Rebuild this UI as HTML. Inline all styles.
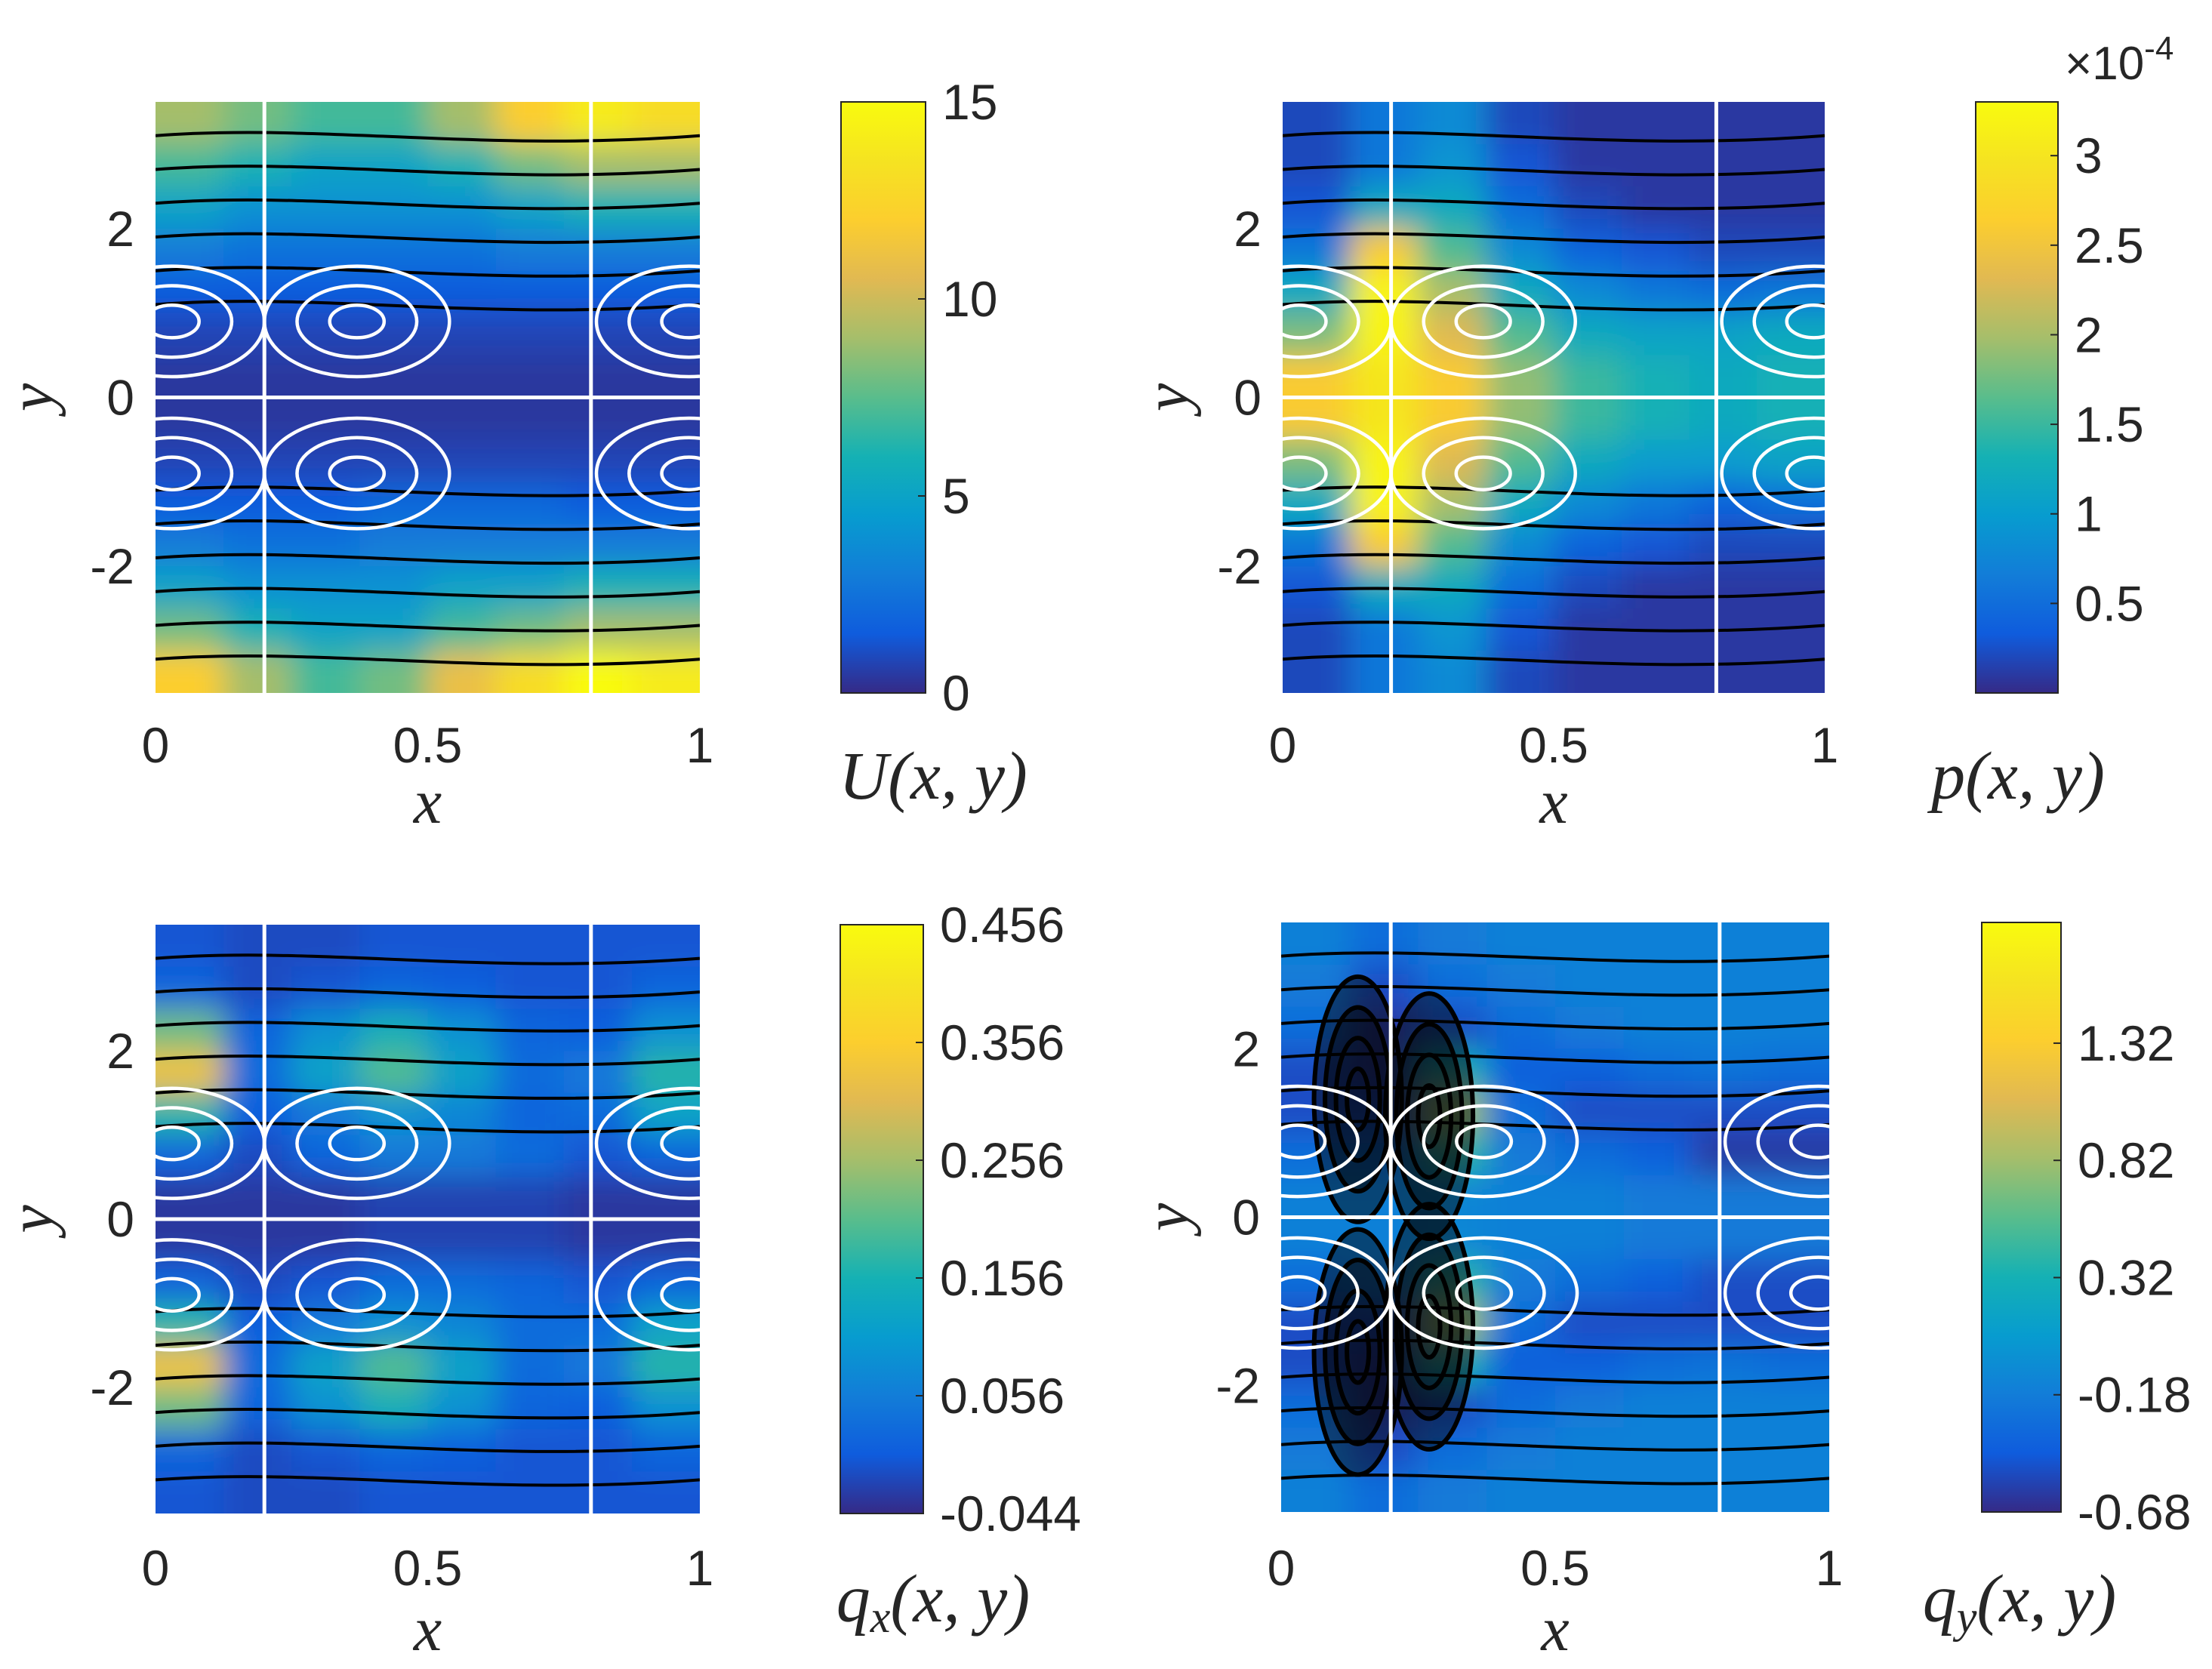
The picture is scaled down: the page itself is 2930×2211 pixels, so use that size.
<!DOCTYPE html>
<html><head><meta charset="utf-8"><style>
html,body{margin:0;padding:0;background:#fff;}
svg{display:block;}
text{font-family:"Liberation Sans",sans-serif;fill:#262626;}
.ser{font-family:"Liberation Serif",serif;font-style:italic;}
</style></head><body>
<svg id="fig" width="2930" height="2211" viewBox="0 0 2930 2211" xmlns="http://www.w3.org/2000/svg">
<defs>
<filter id="blur" x="-10%" y="-10%" width="120%" height="120%"><feGaussianBlur stdDeviation="20"/></filter>
<linearGradient id="parula" x1="0" y1="1" x2="0" y2="0">
<stop offset="0" stop-color="rgb(53,42,135)"/><stop offset="0.1" stop-color="rgb(15,92,221)"/><stop offset="0.2" stop-color="rgb(18,125,216)"/><stop offset="0.3" stop-color="rgb(7,156,207)"/><stop offset="0.4" stop-color="rgb(21,177,180)"/><stop offset="0.5" stop-color="rgb(89,189,140)"/><stop offset="0.6" stop-color="rgb(165,190,107)"/><stop offset="0.7" stop-color="rgb(225,185,82)"/><stop offset="0.8" stop-color="rgb(252,206,46)"/><stop offset="0.9" stop-color="rgb(245,227,33)"/><stop offset="1" stop-color="rgb(249,251,14)"/>
</linearGradient>
</defs>
</svg>
<script>
// ---- data ----
const xTicks = [0, 0.5, 1];
const xTickLabels = ["0", "0.5", "1"];
const yTicks = [2, 0, -2];
const yTickLabels = ["2", "0", "-2"];
const separatrixX = [0.2, 0.8];
const vortexCenters = [[0.37, 0.9], [0.37, -0.9], [0.03, 0.9], [0.03, -0.9], [0.98, 0.9], [0.98, -0.9]];
const loopSizes = [0.05, 0.11, 0.17];
const contourYs = [1.1, 1.5, 1.9, 2.3, 2.7, 3.1, -1.1, -1.5, -1.9, -2.3, -2.7, -3.1];
const denseCentersQy = [[0.14, 1.4], [0.27, 1.2], [0.14, -1.6], [0.27, -1.3]];

const gridU = [
[9,8,7,7,9,12,14,13],[7,6,5,5,6,8,9,9],[5,4,4,4,4,5,6,6],[3,2.5,2.5,2.5,2.5,3,3,3],
[1.5,1.5,1.5,1.5,1.5,1.5,1.5,1.5],[0.8,0.8,0.8,0.8,0.8,0.8,0.8,0.8],[0.4,0.4,0.4,0.4,0.4,0.4,0.4,0.4],[0.4,0.4,0.4,0.4,0.4,0.4,0.4,0.4],
[0.8,0.8,0.8,0.8,0.8,0.8,0.8,0.8],[1.5,1.5,1.5,2,2,2,1.5,1.5],[3,2.5,2.5,3,3,3,3,3],[5,4,4,4,5,5,6,6],
[8,6,5,5,7,8,9,9],[12,9,7,8,11,13,15,14]];
const gridP = [
[0.2,0.6,0.8,0.2,0.1,0.1,0.1,0.1],[0.2,0.6,0.9,0.3,0.1,0.1,0.1,0.1],[0.3,1.2,1.2,0.5,0.2,0.1,0.1,0.1],
[0.6,2.6,1.6,0.8,0.4,0.3,0.2,0.2],[1.2,3.2,2.0,1.2,0.8,0.6,0.5,0.6],[1.8,3.2,2.3,1.6,1.2,1.1,1.1,1.2],
[2.6,3.0,2.6,1.9,1.5,1.3,1.2,1.3],[2.6,3.0,2.6,1.9,1.5,1.3,1.2,1.3],[1.8,3.2,2.3,1.6,1.2,1.0,1.0,1.1],
[1.2,3.2,2.0,1.2,0.8,0.6,0.4,0.5],[0.6,2.6,1.6,0.8,0.4,0.3,0.2,0.2],[0.3,1.2,1.2,0.5,0.2,0.1,0.1,0.1],
[0.2,0.6,0.9,0.3,0.1,0.1,0.1,0.1],[0.2,0.6,0.8,0.2,0.1,0.1,0.1,0.1]];
const gridQx = [
[0.0,-0.01,-0.01,0.0,0.0,0.0,0.0,0.0],[0.02,-0.01,0.0,0.02,0.01,0.0,0.0,0.02],
[0.22,0.02,0.09,0.15,0.09,0.02,0.01,0.09],[0.33,0.03,0.12,0.2,0.12,0.03,0.05,0.17],
[0.17,0.01,0.05,0.09,0.07,0.02,0.03,0.12],[0.02,-0.01,0.02,0.05,0.05,0.03,0.0,0.02],
[-0.03,-0.03,-0.03,-0.02,-0.02,-0.02,-0.03,-0.03],[-0.03,-0.03,-0.03,-0.02,-0.02,-0.02,-0.03,-0.03],
[0.02,-0.01,0.0,0.03,0.03,0.02,0.0,0.02],[0.17,0.01,0.05,0.09,0.07,0.03,0.03,0.12],
[0.33,0.03,0.12,0.2,0.12,0.03,0.05,0.17],[0.22,0.02,0.09,0.15,0.09,0.02,0.01,0.09],
[0.02,-0.01,0.0,0.02,0.01,0.0,0.0,0.02],[0.0,-0.01,-0.01,0.0,0.0,0.0,0.0,0.0]];
const gridQy = [
[-0.15,-0.3,-0.2,-0.15,-0.15,-0.15,-0.15,-0.15],[-0.2,-0.5,-0.3,-0.2,-0.15,-0.15,-0.15,-0.15],
[-0.3,-0.6,-0.5,-0.3,-0.2,-0.15,-0.15,-0.15],[-0.5,-0.6,0.3,-0.4,-0.4,-0.3,-0.25,-0.3],
[-0.5,-0.5,0.8,-0.3,-0.5,-0.5,-0.5,-0.5],[-0.3,-0.3,0.4,-0.2,-0.3,-0.4,-0.6,-0.6],
[-0.15,-0.15,-0.1,-0.15,-0.15,-0.2,-0.2,-0.2],[-0.15,-0.15,-0.1,-0.15,-0.15,-0.2,-0.2,-0.2],
[-0.3,-0.2,0.4,-0.2,-0.3,-0.4,-0.5,-0.5],[-0.5,-0.5,0.8,-0.3,-0.5,-0.5,-0.5,-0.5],
[-0.5,-0.6,0.3,-0.4,-0.4,-0.3,-0.25,-0.3],[-0.3,-0.6,-0.5,-0.3,-0.2,-0.15,-0.15,-0.15],
[-0.2,-0.5,-0.3,-0.2,-0.15,-0.15,-0.15,-0.15],[-0.15,-0.3,-0.2,-0.15,-0.15,-0.15,-0.15,-0.15]];

const cbTicksU = [0, 5, 10, 15];
const cbLabelsU = ["0", "5", "10", "15"];
const cbTicksP = [0.5, 1, 1.5, 2, 2.5, 3];
const cbLabelsP = ["0.5", "1", "1.5", "2", "2.5", "3"];
const cbTicksQx = [-0.044, 0.056, 0.156, 0.256, 0.356, 0.456];
const cbLabelsQx = ["-0.044", "0.056", "0.156", "0.256", "0.356", "0.456"];
const cbTicksQy = [-0.68, -0.18, 0.32, 0.82, 1.32];
const cbLabelsQy = ["-0.68", "-0.18", "0.32", "0.82", "1.32"];

// ---- drawing ----
const NS = "http://www.w3.org/2000/svg";
const fig = document.getElementById("fig");
const stops = [[53,42,135],[15,92,221],[18,125,216],[7,156,207],[21,177,180],[89,189,140],[165,190,107],[225,185,82],[252,206,46],[245,227,33],[249,251,14]];
function parula(t){t=Math.max(0,Math.min(1,t));const f=t*10,i=Math.min(9,Math.floor(f)),r=f-i;const a=stops[i],b=stops[i+1];return "rgb("+a.map((v,k)=>Math.round(v+(b[k]-v)*r)).join(",")+")";}
function mk(tag, attrs, parent){const e=document.createElementNS(NS,tag);for(const k in attrs)e.setAttribute(k,attrs[k]);(parent||fig).appendChild(e);return e;}

const panels = [
 {id:"u", px:[206,927], py:[135,918], cb:[1114,1226], grid:gridU, vmin:0, vmax:15, ticks:cbTicksU, labels:cbLabelsU, title:"U(x, y)", xLab:1068, xTickY:1010, yLabX:47, cbLabelX:1236},
 {id:"p", px:[1699,2417], py:[135,918], cb:[2617,2726], grid:gridP, vmin:0, vmax:3.3, ticks:cbTicksP, labels:cbLabelsP, title:"p(x, y)", xLab:1068, xTickY:1010, yLabX:1551, cbLabelX:2673},
 {id:"qx", px:[206,927], py:[1225,2005], cb:[1113,1223], grid:gridQx, vmin:-0.044, vmax:0.456, ticks:cbTicksQx, labels:cbLabelsQx, title:"qx", xLab:2164, xTickY:2100, yLabX:47, cbLabelX:1236},
 {id:"qy", px:[1697,2423], py:[1222,2003], cb:[2625,2730], grid:gridQy, vmin:-0.68, vmax:1.835, ticks:cbTicksQy, labels:cbLabelsQy, title:"qy", xLab:2164, xTickY:2100, yLabX:1551, cbLabelX:2675}
];

panels.forEach(P=>{
  const W=P.px[1]-P.px[0], H=P.py[1]-P.py[0];
  const sx=v=>P.px[0]+v*W;
  const sy=v=>P.py[0]+(3.5-v)/7*H;
  const g=mk("g",{});
  
  
  const cp=mk("clipPath",{id:"clip-"+P.id},g);
  mk("rect",{x:P.px[0],y:P.py[0],width:W,height:H},cp);
  const plot=mk("g",{"clip-path":"url(#clip-"+P.id+")"},g);
  
  
  const cells=mk("g",{filter:"url(#blur)"},plot);
  const nr=P.grid.length, nc=P.grid[0].length;
  P.grid.forEach((row,r)=>row.forEach((v,c)=>{
    let x0=sx(c/nc), x1=sx((c+1)/nc), y0=sy(3.5-7*r/nr), y1=sy(3.5-7*(r+1)/nr);
    if(c===0)x0-=60; if(c===nc-1)x1+=60; if(r===0)y0-=60; if(r===nr-1)y1+=60;
    const cell=mk("rect",{x:x0,y:y0,width:x1-x0+1,height:y1-y0+1,fill:parula((v-P.vmin)/(P.vmax-P.vmin))},cells);
    
    
  }));
  // contour lines
  contourYs.forEach(cy=>{
    const l=mk("path",{d:`M${sx(0)},${sy(cy)} C${sx(0.3)},${sy(cy+0.15)} ${sx(0.6)},${sy(cy-0.2)} ${sx(1)},${sy(cy)}`,stroke:"#000","stroke-width":4,fill:"none"},plot);
    
    
  });
  if(P.id==="qy"){
    denseCentersQy.forEach(([cx,cy])=>{
      [0.08,0.06,0.04,0.02].forEach((s,k)=>{
        const e=mk("ellipse",{cx:sx(cx),cy:sy(cy),rx:W*s,ry:H*s*2.6,stroke:"#000","stroke-width":6,fill:k<2?"rgba(0,0,0,0.45)":"none"},plot);
        
        
      });
    });
  }
  // streamlines
  separatrixX.forEach(xv=>{
    const l=mk("line",{x1:sx(xv),x2:sx(xv),y1:P.py[0],y2:P.py[1],stroke:"#fff","stroke-width":5},plot);
    
    
  });
  const h=mk("line",{x1:P.px[0],x2:P.px[1],y1:sy(0),y2:sy(0),stroke:"#fff","stroke-width":5},plot);
  
  
  vortexCenters.forEach(([cx,cy])=>{
    loopSizes.forEach(s=>{
      const e=mk("ellipse",{cx:sx(cx),cy:sy(cy),rx:W*s,ry:H*s*0.55,stroke:"#fff","stroke-width":4.5,fill:"none"},plot);
      
      
    });
  });
  // ticks
  xTicks.forEach((t,i)=>{
    const tx=mk("text",{x:sx(t),y:P.xTickY,"font-size":66,"text-anchor":"middle"},g);tx.textContent=xTickLabels[i];
    
    
  });
  yTicks.forEach((t,i)=>{
    const ty=mk("text",{x:P.px[0]-28,y:sy(t)+23,"font-size":66,"text-anchor":"end"},g);ty.textContent=yTickLabels[i];
    
    
  });
  const xl=mk("text",{x:(P.px[0]+P.px[1])/2,y:P.xLab+22,"font-size":84,"text-anchor":"middle",class:"ser"},g);xl.textContent="x";
  
  
  const ymid=(P.py[0]+P.py[1])/2;
  const yl=mk("text",{x:P.yLabX,y:ymid,"font-size":84,"text-anchor":"middle",class:"ser",transform:`rotate(-90 ${P.yLabX} ${ymid}) translate(0 22)`},g);yl.textContent="y";
  
  
  // colorbar
  const cb=mk("rect",{x:P.cb[0],y:P.py[0],width:P.cb[1]-P.cb[0],height:H,fill:"url(#parula)",stroke:"#262626","stroke-width":2},g);
  
  
  const cby=v=>P.py[1]-(v-P.vmin)/(P.vmax-P.vmin)*H;
  P.ticks.forEach((t,i)=>{
    mk("line",{x1:P.cb[1]-10,x2:P.cb[1],y1:cby(t),y2:cby(t),stroke:"#262626","stroke-width":2},g);
    const ct=mk("text",{x:P.cb[1]+22,y:cby(t)+23,"font-size":66},g);ct.textContent=P.labels[i];
    
    
  });
  const tl=mk("text",{x:P.cbLabelX,y:P.xTickY+48,"font-size":90,"text-anchor":"middle",class:"ser"},g);
  
  
  if(P.title==="qx"||P.title==="qy"){
    tl.textContent="q";
    const sub=mk("tspan",{"font-size":60,dy:14},tl);sub.textContent=P.title[1];
    const rest=mk("tspan",{dy:-14},tl);rest.textContent="(x, y)";
  } else tl.textContent=P.title;
});
const ex=mk("text",{x:2735,y:105,"font-size":62},fig);
ex.textContent="×10";


const exs=mk("tspan",{"font-size":44,dy:-26},ex);exs.textContent="-4";
</script>
</body></html>
